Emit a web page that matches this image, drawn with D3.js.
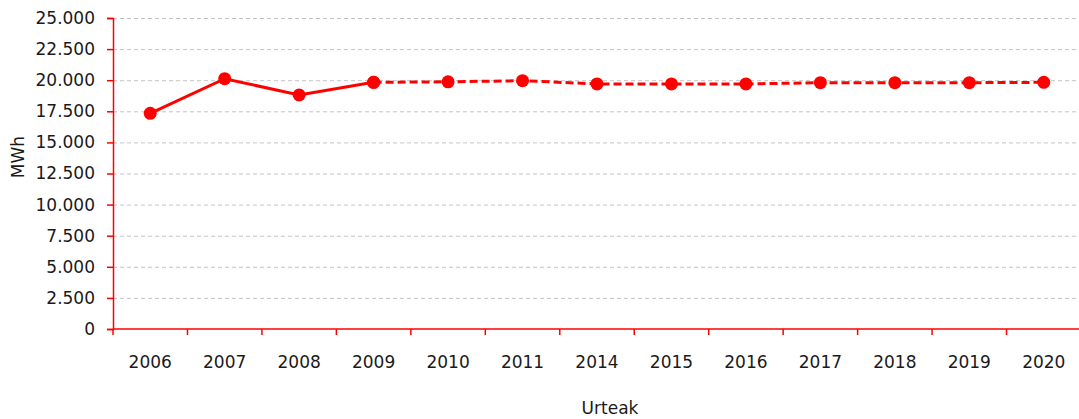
<!DOCTYPE html>
<html>
<head>
<meta charset="utf-8">
<script src="https://cdn.jsdelivr.net/npm/d3@7"></script>
<style>
    body { margin: 0; background: #fff; }
    svg { display: block; font-family: "DejaVu Sans", sans-serif; }
</style>
</head>
<body>
<svg id="chart"></svg>
<script>
const years = ["2006", "2007", "2008", "2009", "2010", "2011", "2014", "2015", "2016", "2017", "2018", "2019", "2020"];
const realValues = [17340, 20120, 18810, 19830, null, null, null, null, null, null, null, null, null];
const forecastValues = [null, null, null, 19830, 19870, 19960, 19700, 19700, 19700, 19800, 19800, 19800, 19830];
const yTicks = [0, 2500, 5000, 7500, 10000, 12500, 15000, 17500, 20000, 22500, 25000];

const width = 1079, height = 419;
const margin = {top: 18, right: -2, bottom: 90, left: 113};
const red = "#ff0000";

const svg = d3.select("#chart").attr("width", width).attr("height", height);

const x = d3.scaleBand()
    .domain(years)
    .range([margin.left, width - margin.right]);

const y = d3.scaleLinear()
    .domain([0, 25000])
    .range([height - margin.bottom, margin.top]);

const fmt = v => d3.format(",")(v).replace(/,/g, ".");

// gridlines
svg.append("g")
    .selectAll("line")
    .data(yTicks.filter(t => t > 0)).enter()
    .append("line")
    .attr("x1", margin.left)
    .attr("x2", width)
    .attr("y1", d => y(d) + 0.5)
    .attr("y2", d => y(d) + 0.5)
    .attr("stroke", "#c4c4c4")
    .attr("stroke-width", 1)
    .attr("stroke-dasharray", "4,3");

// y axis
const yAxis = svg.append("g")
    .attr("transform", `translate(${margin.left},0)`)
    .call(d3.axisLeft(y).tickValues(yTicks).tickFormat(fmt).tickSizeOuter(0).tickSize(6).tickPadding(12));
yAxis.select(".domain").attr("stroke", red).attr("stroke-width", 1.5);
yAxis.selectAll(".tick line").attr("stroke", red).attr("stroke-width", 1.5);
yAxis.selectAll("text").attr("font-size", 17).attr("fill", "#1a1a1a")
    .attr("font-family", "DejaVu Sans, sans-serif");

// x axis: ticks on band boundaries
const xAxis = svg.append("g")
    .attr("transform", `translate(0,${y(0)})`);
xAxis.append("line")
    .attr("x1", margin.left).attr("x2", width)
    .attr("stroke", red).attr("stroke-width", 1.5);
xAxis.selectAll("line.tk")
    .data(years).enter()
    .append("line")
    .attr("class", "tk")
    .attr("x1", d => x(d)).attr("x2", d => x(d))
    .attr("y1", 0).attr("y2", 6)
    .attr("stroke", red).attr("stroke-width", 1.5);
xAxis.selectAll("text")
    .data(years).enter()
    .append("text")
    .attr("x", d => x(d) + x.bandwidth() / 2)
    .attr("y", 39)
    .attr("text-anchor", "middle")
    .attr("font-size", 17)
    .attr("fill", "#1a1a1a")
    .text(d => d);

// axis titles
svg.append("text")
    .attr("transform", `translate(24,157) rotate(-90)`)
    .attr("text-anchor", "middle")
    .attr("font-size", 17)
    .attr("fill", "#1a1a1a")
    .text("MWh");

svg.append("text")
    .attr("x", 610)
    .attr("y", 414)
    .attr("text-anchor", "middle")
    .attr("font-size", 17)
    .attr("fill", "#1a1a1a")
    .text("Urteak");

const cx = d => x(d) + x.bandwidth() / 2;

function drawSeries(values, dash) {
    const pts = years.map((yr, i) => ({year: yr, value: values[i]})).filter(p => p.value !== null);
    const line = d3.line().x(p => cx(p.year)).y(p => y(p.value));
    svg.append("path")
        .datum(pts)
        .attr("d", line)
        .attr("fill", "none")
        .attr("stroke", red)
        .attr("stroke-width", 3)
        .attr("stroke-dasharray", dash);
    svg.append("g")
        .selectAll("circle")
        .data(pts).enter()
        .append("circle")
        .attr("cx", p => cx(p.year))
        .attr("cy", p => y(p.value))
        .attr("r", 6.5)
        .attr("fill", red);
}

drawSeries(forecastValues, "8,4");
drawSeries(realValues, null);
</script>
</body>
</html>
